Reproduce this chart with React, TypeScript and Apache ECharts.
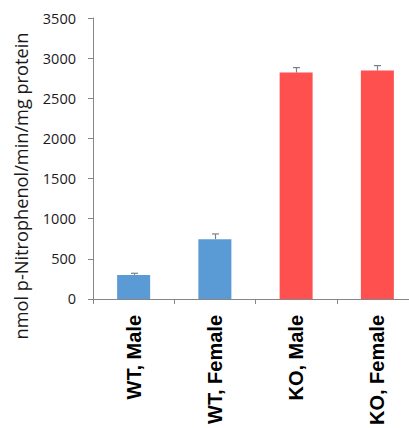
import React, { useEffect, useRef } from "react";
import * as echarts from "echarts";

const categories = ["WT, Male", "WT, Female", "KO, Male", "KO, Female"];
const meanValues = [300, 745, 2820, 2845];
const errorValues = [20, 65, 62, 62];
const barColors = ["#5B9BD5", "#5B9BD5", "#FF5050", "#FF5050"];
const yTicks = { min: 0, max: 3500, interval: 500 };
const yAxisTitle = "nmol p-Nitrophenol/min/mg protein";

export default function App() {
  const ref = useRef<HTMLDivElement>(null);
  useEffect(() => {
    if (!ref.current) return;
    const chart = echarts.init(ref.current, null, { renderer: "svg" });
    chart.setOption({
      animation: false,
      backgroundColor: "#ffffff",
      grid: { left: 93, right: 2, top: 18, bottom: 129 },
      xAxis: {
        type: "category",
        data: categories,
        axisLine: { show: true, lineStyle: { color: "#868686", width: 1 } },
        axisTick: { show: true, length: 5, lineStyle: { color: "#868686" } },
        axisLabel: {
          rotate: 90,
          margin: 16,
          fontFamily: "Liberation Sans",
          fontWeight: "bold",
          fontSize: 20,
          color: "#000000",
        },
      },
      yAxis: {
        type: "value",
        min: yTicks.min,
        max: yTicks.max,
        interval: yTicks.interval,
        splitLine: { show: false },
        axisLine: { show: true, lineStyle: { color: "#868686", width: 1 } },
        axisTick: { show: true, length: 5, lineStyle: { color: "#868686" } },
        axisLabel: {
          margin: 17,
          fontFamily: "Open Sans",
          fontSize: 14.5,
          color: "#1a1a1a",
          formatter: (v: number) => String(v),
        },
      },
      graphic: [
        {
          type: "text",
          x: 21,
          y: 186,
          rotation: Math.PI / 2,
          style: {
            text: yAxisTitle,
            fontFamily: "Open Sans",
            fontSize: 18.2,
            fill: "#1a1a1a",
            align: "center",
            verticalAlign: "middle",
          },
        },
      ],
      series: [
        {
          type: "bar",
          barWidth: 33,
          data: meanValues.map((v, i) => ({ value: v, itemStyle: { color: barColors[i] } })),
        },
        {
          type: "custom",
          data: meanValues.map((v, i) => [i, v, v + errorValues[i]]),
          renderItem: (params: any, api: any) => {
            const x = api.value(0);
            const base = api.coord([x, api.value(1)]);
            const top = api.coord([x, api.value(2)]);
            const cx = Math.round(base[0]) + 0.5;
            const hw = 3.5;
            const style = { stroke: "#77828f", lineWidth: 1.2 };
            return {
              type: "group",
              children: [
                { type: "line", shape: { x1: cx, y1: base[1], x2: cx, y2: top[1] }, style },
                { type: "line", shape: { x1: cx - hw, y1: top[1], x2: cx + hw, y2: top[1] }, style },
              ],
            };
          },
          z: 3,
        },
      ],
    });
    return () => chart.dispose();
  }, []);
  return (
    <div style={{ position: "fixed", left: 0, top: 0, width: 409, height: 428, overflow: "hidden", background: "#fff" }}>
      <div ref={ref} style={{ width: 420, height: 428 }} />
    </div>
  );
}
